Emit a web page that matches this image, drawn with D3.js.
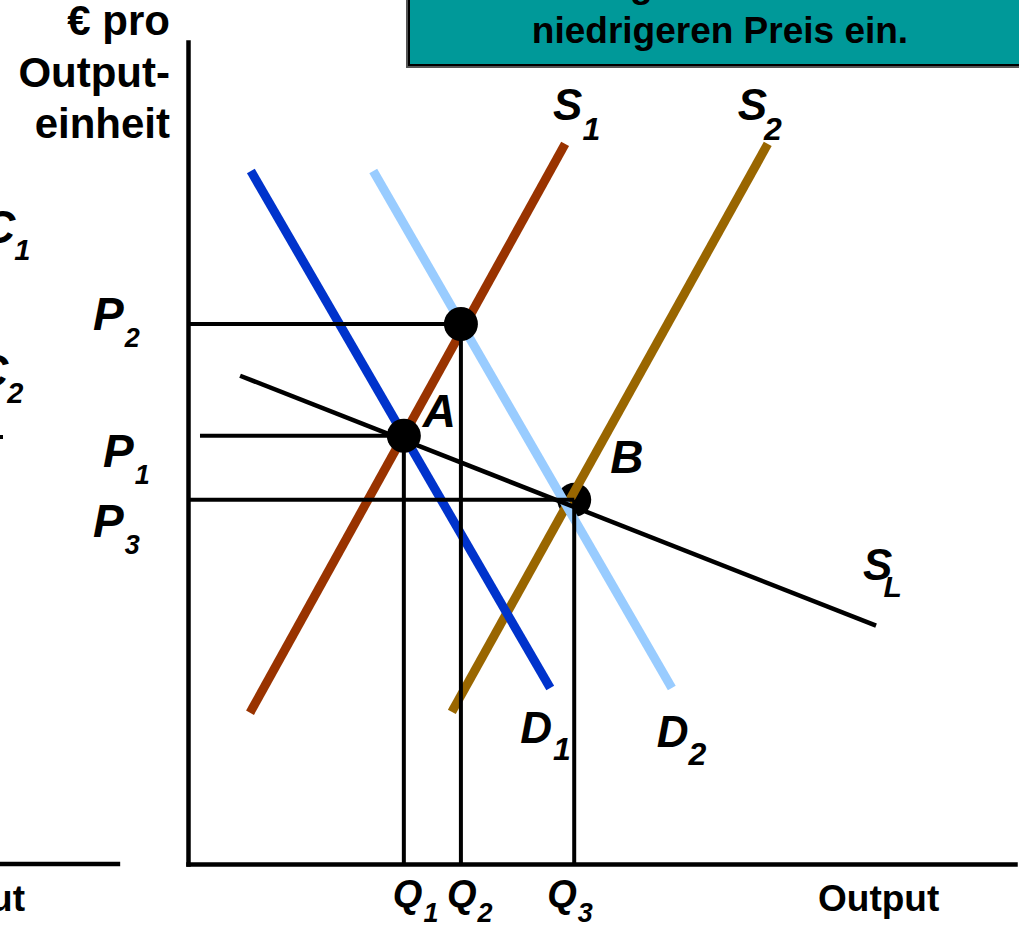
<!DOCTYPE html>
<html>
<head>
<meta charset="utf-8">
<script src="https://cdn.jsdelivr.net/npm/d3@7"></script>
<style>
  html, body { margin: 0; padding: 0; background: #fff; overflow: hidden; }
  svg { display: block; font-family: "Liberation Sans", Arial, sans-serif; }
</style>
</head>
<body>
<svg id="canvas"></svg>
<script>
// curves (quantity, price) in chart units 0..100
const curveNames = ['S1', 'S2', 'D1', 'D2', 'SL']
const curveColors = ['#993300', '#996600', '#0033cc', '#99ccff', '#000000']
const curveStart = [[7.5, 18.4], [31.9, 18.5], [7.6, 84.3], [22.4, 84.3], [6.3, 59.4]]
const curveEnd = [[45.6, 87.6], [70.1, 87.6], [43.8, 21.4], [58.5, 21.4], [83.2, 29.0]]

// equilibrium prices and quantities
const priceLabels = ['P2', 'P1', 'P3']
const priceValues = [65.7, 52.1, 44.3]
const quantityLabels = ['Q2', 'Q1', 'Q3']
const quantityValues = [33.0, 26.1, 46.7]
const pointNames = ['', 'A', 'B']

const boxLines = ['Das neue Gleichgewicht stellt sich auf einen', 'niedrigeren Preis ein.']
const yTitle = ['€ pro', 'Output-', 'einheit']
const xTitle = 'Output'

const width = 1019
const height = 930

let svg = d3.select('#canvas').attr('width', width).attr('height', height)

let xScale = d3.scaleLinear().domain([0, 100]).range([188, 1015])
let yScale = d3.scaleLinear().domain([0, 100]).range([864, 42])

let addLabel = (x, y, main, sub, size, subSize, dx, dy) => {
    let t = svg.append('text')
        .attr('x', x)
        .attr('y', y)
        .attr('font-weight', 'bold')
        .attr('font-style', 'italic')
        .attr('font-size', size)
    t.append('tspan').text(main)
    if (sub) {
        t.append('tspan')
            .attr('dx', dx)
            .attr('dy', dy)
            .attr('font-size', subSize)
            .text(sub)
    }
    return t
}

// ---- leftovers of the previous chart on the slide ----
svg.append('line')
    .attr('x1', xScale(-23)).attr('x2', xScale(-8.2))
    .attr('y1', yScale(0)).attr('y2', yScale(0))
    .attr('stroke', '#000').attr('stroke-width', 4.5)
svg.append('line')
    .attr('x1', -6).attr('x2', 3)
    .attr('y1', 437).attr('y2', 437)
    .attr('stroke', '#000').attr('stroke-width', 4)
svg.append('text')
    .attr('x', 25).attr('y', 911)
    .attr('text-anchor', 'end')
    .attr('font-weight', 'bold').attr('font-size', 37)
    .text(xTitle)
addLabel(-18, 243, 'C', '1', 46, 29, -1, 17)
addLabel(-25, 387, 'C', '2', 46, 29, -1, 16)

// ---- teal text box ----
svg.append('rect')
    .attr('x', 406).attr('y', -10).attr('width', 700).attr('height', 78)
    .attr('fill', '#555')
svg.append('rect')
    .attr('x', 409).attr('y', -10).attr('width', 700).attr('height', 75)
    .attr('fill', '#009999').attr('stroke', '#000').attr('stroke-width', 2)

let firstLine = svg.append('text')
    .attr('y', -3)
    .attr('font-weight', 'bold').attr('font-size', 37)
    .text(boxLines[0])
// place the first (cut off) line so its "g" sits where it does on the slide
let gIndex = boxLines[0].indexOf('g')
firstLine.attr('x', 630 - firstLine.node().getSubStringLength(0, gIndex))

svg.append('text')
    .attr('x', 720).attr('y', 43)
    .attr('text-anchor', 'middle')
    .attr('font-weight', 'bold').attr('font-size', 37)
    .text(boxLines[1])

// ---- axis titles ----
svg.selectAll('.ytitle')
    .data(yTitle)
    .enter()
    .append('text')
    .attr('class', 'ytitle')
    .attr('x', 170)
    .attr('y', (d, i) => 35 + i * 51.5)
    .attr('text-anchor', 'end')
    .attr('font-weight', 'bold')
    .attr('font-size', 42)
    .text(d => d)

svg.append('text')
    .attr('x', 818).attr('y', 911)
    .attr('font-weight', 'bold').attr('font-size', 37)
    .text(xTitle)

// ---- axes ----
let xAxis = d3.axisBottom(xScale).ticks(0).tickSizeOuter(0)
let yAxis = d3.axisLeft(yScale).ticks(0).tickSizeOuter(0)

svg.append('g')
    .attr('id', 'x-axis')
    .attr('transform', 'translate(0,' + yScale(0) + ')')
    .call(xAxis)
svg.append('g')
    .attr('id', 'y-axis')
    .attr('transform', 'translate(' + xScale(0) + ',0)')
    .call(yAxis)
svg.selectAll('.domain')
    .attr('stroke', '#000')
    .attr('stroke-width', 4.5)
    .attr('stroke-linecap', 'square')

// ---- point B sits below the demand / supply lines ----
svg.append('circle')
    .attr('cx', xScale(quantityValues[2]))
    .attr('cy', yScale(priceValues[2]))
    .attr('r', 17)
    .attr('fill', '#000')

// ---- curves ----
svg.selectAll('.curve')
    .data(curveNames)
    .enter()
    .append('line')
    .attr('class', 'curve')
    .attr('x1', (d, i) => xScale(curveStart[i][0]))
    .attr('y1', (d, i) => yScale(curveStart[i][1]))
    .attr('x2', (d, i) => xScale(curveEnd[i][0]))
    .attr('y2', (d, i) => yScale(curveEnd[i][1]))
    .attr('stroke', (d, i) => curveColors[i])
    .attr('stroke-width', d => d === 'SL' ? 4.5 : 9)

// ---- guide lines ----
priceValues.forEach((p, i) => {
    let q = quantityValues[i]
    svg.append('line')
        .attr('x1', xScale(priceLabels[i] === 'P1' ? 1.45 : 0))
        .attr('x2', xScale(q))
        .attr('y1', yScale(p)).attr('y2', yScale(p))
        .attr('stroke', '#000').attr('stroke-width', 4)
    svg.append('line')
        .attr('x1', xScale(q)).attr('x2', xScale(q))
        .attr('y1', yScale(p)).attr('y2', yScale(0))
        .attr('stroke', '#000').attr('stroke-width', 4)
})

// ---- remaining equilibrium points ----
svg.selectAll('.eq')
    .data([0, 1])
    .enter()
    .append('circle')
    .attr('class', 'eq')
    .attr('cx', i => xScale(quantityValues[i]))
    .attr('cy', i => yScale(priceValues[i]))
    .attr('r', 17)
    .attr('fill', '#000')

// ---- labels ----
let priceOffsets = [[-95, 6], [-85, 31], [-95, 37]]
priceLabels.forEach((lab, i) => {
    addLabel(xScale(0) + priceOffsets[i][0], yScale(priceValues[i]) + priceOffsets[i][1],
        lab[0], lab[1], 46, 27, 1, 17)
})

let quantityOffsets = [-14, -11, -27]
quantityLabels.forEach((lab, i) => {
    addLabel(xScale(quantityValues[i]) + quantityOffsets[i], yScale(0) + 43,
        lab[0], lab[1], 38, 27, 1, 15)
})

let curveLabelOffsets = {
    S1: [-12, -24, 0, 20, 32],
    S2: [-30, -24, -3, 20, 32],
    D1: [-30, 55, 1, 17, 32],
    D2: [-15, 59, 0, 18, 32],
    SL: [-13, -46, -9, 17, 30]
}
curveNames.forEach((name, i) => {
    let o = curveLabelOffsets[name]
    let pt = curveEnd[i]
    addLabel(xScale(pt[0]) + o[0], yScale(pt[1]) + o[1], name[0], name[1], 44, o[4], o[2], o[3])
})

let pointOffsets = [null, [19, -9], [36, -27]]
pointNames.forEach((n, i) => {
    if (!n) return
    addLabel(xScale(quantityValues[i]) + pointOffsets[i][0], yScale(priceValues[i]) + pointOffsets[i][1],
        n, null, 46)
})
</script>
</body>
</html>
